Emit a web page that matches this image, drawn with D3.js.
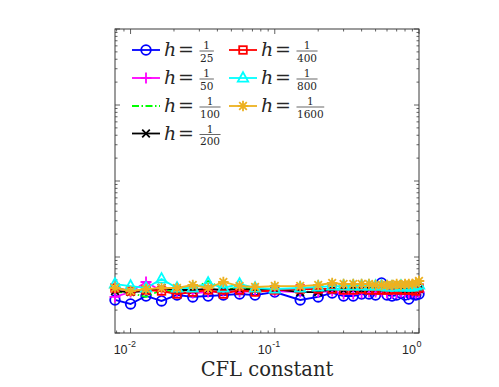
<!DOCTYPE html>
<html>
<head>
<meta charset="utf-8">
<script src="https://cdn.jsdelivr.net/npm/d3@7"></script>
<style>
  body { margin: 0; background: #fff; }
</style>
</head>
<body>
<svg id="chart" width="499" height="387"></svg>
<script>
// CFL constants (x) shared by every run
const cfl = [0.0078, 0.01, 0.0128, 0.0164, 0.021, 0.027, 0.0345, 0.044, 0.057, 0.073,
  0.1, 0.15, 0.2, 0.25, 0.3, 0.35, 0.4, 0.45, 0.5, 0.55, 0.6, 0.65, 0.7, 0.75, 0.8, 0.85, 0.9, 0.95, 1.0];

// error values, one array per mesh size h
const h25 = [2.72e-4, 2.41e-4, 3.07e-4, 2.64e-4, 3.16e-4, 2.98e-4, 3.07e-4, 3.16e-4, 3.26e-4, 3.16e-4,
  3.46e-4, 2.72e-4, 2.98e-4, 3.36e-4, 3.07e-4, 3.07e-4, 3.26e-4, 3.26e-4, 3.16e-4, 4.55e-4,
  3.16e-4, 3.07e-4, 3.16e-4, 3.36e-4, 3.16e-4, 2.80e-4, 3.26e-4, 3.16e-4, 3.26e-4];
const h50 = [2.98e-4, 3.46e-4, 4.69e-4, 3.57e-4, 3.46e-4, 3.36e-4, 3.46e-4, 3.57e-4, 3.46e-4, 3.57e-4,
  3.57e-4, 3.46e-4, 3.46e-4, 3.57e-4, 3.26e-4, 3.26e-4, 3.36e-4, 3.46e-4, 3.46e-4, 3.57e-4,
  3.36e-4, 3.36e-4, 3.36e-4, 3.46e-4, 3.46e-4, 3.36e-4, 3.46e-4, 3.36e-4, 3.46e-4];
const h100 = [3.46e-4, 3.36e-4, 2.98e-4, 3.68e-4, 3.46e-4, 3.79e-4, 4.83e-4, 3.79e-4, 3.91e-4, 3.79e-4,
  3.79e-4, 3.79e-4, 3.68e-4, 3.79e-4, 3.79e-4, 3.79e-4, 3.79e-4, 3.79e-4, 3.91e-4, 3.91e-4,
  3.79e-4, 3.79e-4, 3.79e-4, 3.79e-4, 3.79e-4, 3.79e-4, 3.79e-4, 3.79e-4, 3.91e-4];
const h200 = [3.57e-4, 3.46e-4, 3.57e-4, 3.91e-4, 3.68e-4, 3.68e-4, 3.79e-4, 3.68e-4, 3.79e-4, 3.68e-4,
  3.79e-4, 3.46e-4, 3.46e-4, 3.79e-4, 3.68e-4, 3.79e-4, 3.68e-4, 3.79e-4, 3.79e-4, 3.68e-4,
  3.68e-4, 3.68e-4, 3.79e-4, 3.68e-4, 3.79e-4, 3.68e-4, 3.79e-4, 3.68e-4, 3.79e-4];
const h400 = [3.91e-4, 3.57e-4, 3.68e-4, 3.57e-4, 3.26e-4, 3.46e-4, 3.68e-4, 3.26e-4, 3.68e-4, 3.46e-4,
  3.68e-4, 3.79e-4, 3.79e-4, 3.79e-4, 3.68e-4, 3.68e-4, 3.79e-4, 3.68e-4, 3.68e-4, 3.68e-4,
  3.68e-4, 3.68e-4, 3.79e-4, 3.68e-4, 3.68e-4, 3.68e-4, 3.68e-4, 3.57e-4, 3.91e-4];
const h800 = [4.41e-4, 4.15e-4, 3.91e-4, 5.14e-4, 3.91e-4, 3.91e-4, 4.55e-4, 3.91e-4, 4.41e-4, 3.91e-4,
  3.79e-4, 3.91e-4, 4.03e-4, 4.15e-4, 4.15e-4, 4.15e-4, 4.15e-4, 4.15e-4, 4.15e-4, 4.15e-4,
  4.03e-4, 4.03e-4, 4.03e-4, 4.15e-4, 4.03e-4, 4.03e-4, 4.03e-4, 4.15e-4, 4.28e-4];
const h1600 = [3.91e-4, 3.57e-4, 3.79e-4, 3.91e-4, 3.91e-4, 4.28e-4, 3.91e-4, 4.69e-4, 4.15e-4, 4.03e-4,
  4.15e-4, 4.15e-4, 4.28e-4, 4.55e-4, 4.41e-4, 4.41e-4, 4.41e-4, 4.41e-4, 4.28e-4, 4.28e-4,
  4.28e-4, 4.28e-4, 4.41e-4, 4.28e-4, 4.41e-4, 4.41e-4, 4.41e-4, 4.55e-4, 4.83e-4];

const xTickVals = [0.01, 0.1, 1];
const xTickExp = ['-2', '-1', '0'];
const xLabel = 'CFL constant';

const series = [
  { den: '25', vals: h25, color: '#0000ff', marker: 'circle' },
  { den: '50', vals: h50, color: '#ff00ff', marker: 'plus' },
  { den: '100', vals: h100, color: '#00ff00', marker: 'none', dash: '7,2.5,1.5,2.5' },
  { den: '200', vals: h200, color: '#000000', marker: 'x' },
  { den: '400', vals: h400, color: '#ff0000', marker: 'square' },
  { den: '800', vals: h800, color: '#00ffff', marker: 'triangle' },
  { den: '1600', vals: h1600, color: '#edb120', marker: 'star' }
];

const x0 = 115, x1 = 419, y0 = 333, y1 = 29;
const x = d3.scaleLog().domain([0.0078, 1]).range([x0, x1]);
const y = d3.scaleLog().domain([1e-4, 1]).range([y0, y1]);

const svg = d3.select('#chart');
const axisColor = '#3a3a3a';
const sw = 1.8;

function drawMarker(g, type, cx, cy, color) {
  if (type === 'circle') {
    g.append('circle').attr('cx', cx).attr('cy', cy).attr('r', 4.8)
      .attr('fill', 'none').attr('stroke', color).attr('stroke-width', sw);
  } else if (type === 'square') {
    g.append('rect').attr('x', cx - 3.8).attr('y', cy - 3.8).attr('width', 7.6).attr('height', 7.6)
      .attr('fill', 'none').attr('stroke', color).attr('stroke-width', sw);
  } else if (type === 'triangle') {
    g.append('path').attr('d', `M${cx},${cy - 5.8}L${cx + 5.2},${cy + 3.6}L${cx - 5.2},${cy + 3.6}Z`)
      .attr('fill', 'none').attr('stroke', color).attr('stroke-width', sw);
  } else if (type === 'plus') {
    g.append('path').attr('d', `M${cx - 5.5},${cy}H${cx + 5.5}M${cx},${cy - 5.5}V${cy + 5.5}`)
      .attr('stroke', color).attr('stroke-width', sw);
  } else if (type === 'x') {
    g.append('path').attr('d', `M${cx - 3.8},${cy - 3.8}L${cx + 3.8},${cy + 3.8}M${cx - 3.8},${cy + 3.8}L${cx + 3.8},${cy - 3.8}`)
      .attr('stroke', color).attr('stroke-width', sw);
  } else if (type === 'star') {
    const r = 5.3, d = 3.8;
    g.append('path').attr('d', `M${cx - r},${cy}H${cx + r}M${cx},${cy - r}V${cy + r}` +
      `M${cx - d},${cy - d}L${cx + d},${cy + d}M${cx - d},${cy + d}L${cx + d},${cy - d}`)
      .attr('stroke', color).attr('stroke-width', sw);
  }
}

// ticks on all four sides, pointing inward
const minorX = x.ticks();
const minorY = y.ticks();
function tickLen(v, majors) {
  return majors.some(m => Math.abs(Math.log10(v) - Math.log10(m)) < 1e-6) ? 5 : 2.5;
}
const majorY = [1e-4, 1e-3, 1e-2, 1e-1, 1];
const ticks = svg.append('g').attr('stroke', axisColor).attr('stroke-width', 0.8);
minorX.forEach(v => {
  const px = x(v), l = tickLen(v, xTickVals);
  ticks.append('line').attr('x1', px).attr('x2', px).attr('y1', y0).attr('y2', y0 - l);
  ticks.append('line').attr('x1', px).attr('x2', px).attr('y1', y1).attr('y2', y1 + l);
});
minorY.forEach(v => {
  const py = y(v), l = tickLen(v, majorY);
  ticks.append('line').attr('x1', x0).attr('x2', x0 + l).attr('y1', py).attr('y2', py);
  ticks.append('line').attr('x1', x1).attr('x2', x1 - l).attr('y1', py).attr('y2', py);
});
svg.append('rect').attr('x', x0).attr('y', y1).attr('width', x1 - x0).attr('height', y0 - y1)
  .attr('fill', 'none').attr('stroke', axisColor).attr('stroke-width', 1);

// x tick labels 10^k
xTickVals.forEach((v, i) => {
  svg.append('text').attr('x', x(v) - 3).attr('y', 354)
    .attr('font-family', 'Liberation Sans, Arial, sans-serif').attr('font-size', 12.5)
    .attr('fill', '#262626').attr('text-anchor', 'end').text('10');
  svg.append('text').attr('x', x(v) - 2.5).attr('y', 346.5)
    .attr('font-family', 'Liberation Sans, Arial, sans-serif').attr('font-size', 9)
    .attr('fill', '#262626').text(xTickExp[i]);
});

svg.append('text').attr('x', (x0 + x1) / 2).attr('y', 376).attr('text-anchor', 'middle')
  .attr('font-family', 'DejaVu Serif, serif').attr('font-size', 19.5).attr('fill', '#262626')
  .text(xLabel);

// series lines and markers
const line = d3.line().x((d, i) => x(cfl[i])).y(d => y(d));
series.forEach(s => {
  const g = svg.append('g');
  g.append('path').datum(s.vals).attr('d', line).attr('fill', 'none')
    .attr('stroke', s.color).attr('stroke-width', sw)
    .attr('stroke-dasharray', s.dash || null);
  s.vals.forEach((v, i) => drawMarker(g, s.marker, x(cfl[i]), y(v), s.color));
});

// legend, two columns
const legRowY = [50, 78, 106, 133.5];
const legColX = [132, 229];
series.forEach((s, i) => {
  const col = i < 4 ? 0 : 1;
  const row = i < 4 ? i : i - 4;
  const lx = legColX[col], ly = legRowY[row];
  const g = svg.append('g');
  g.append('line').attr('x1', lx).attr('x2', lx + 28).attr('y1', ly).attr('y2', ly)
    .attr('stroke', s.color).attr('stroke-width', sw).attr('stroke-dasharray', s.dash || null);
  drawMarker(g, s.marker, lx + 14, ly, s.color);
  g.append('text').attr('x', lx + 32).attr('y', ly + 6).attr('font-family', 'DejaVu Serif, serif')
    .attr('font-style', 'italic').attr('font-size', 19).attr('fill', '#262626').text('h');
  g.append('text').attr('x', lx + 46).attr('y', ly + 6).attr('font-family', 'DejaVu Serif, serif')
    .attr('font-size', 19).attr('fill', '#262626').text('=');
  const den = g.append('text').attr('x', lx + 68).attr('y', ly + 11.5)
    .attr('font-family', 'DejaVu Serif, serif').attr('font-size', 10.5).attr('fill', '#262626')
    .text(s.den);
  const w = den.node().getComputedTextLength();
  g.append('line').attr('x1', lx + 67.5).attr('x2', lx + 68.5 + w).attr('y1', ly + 1).attr('y2', ly + 1)
    .attr('stroke', '#262626').attr('stroke-width', 0.7);
  g.append('text').attr('x', lx + 68 + w / 2).attr('y', ly - 1).attr('text-anchor', 'middle')
    .attr('font-family', 'DejaVu Serif, serif').attr('font-size', 10.5).attr('fill', '#262626')
    .text('1');
});
</script>
</body>
</html>
